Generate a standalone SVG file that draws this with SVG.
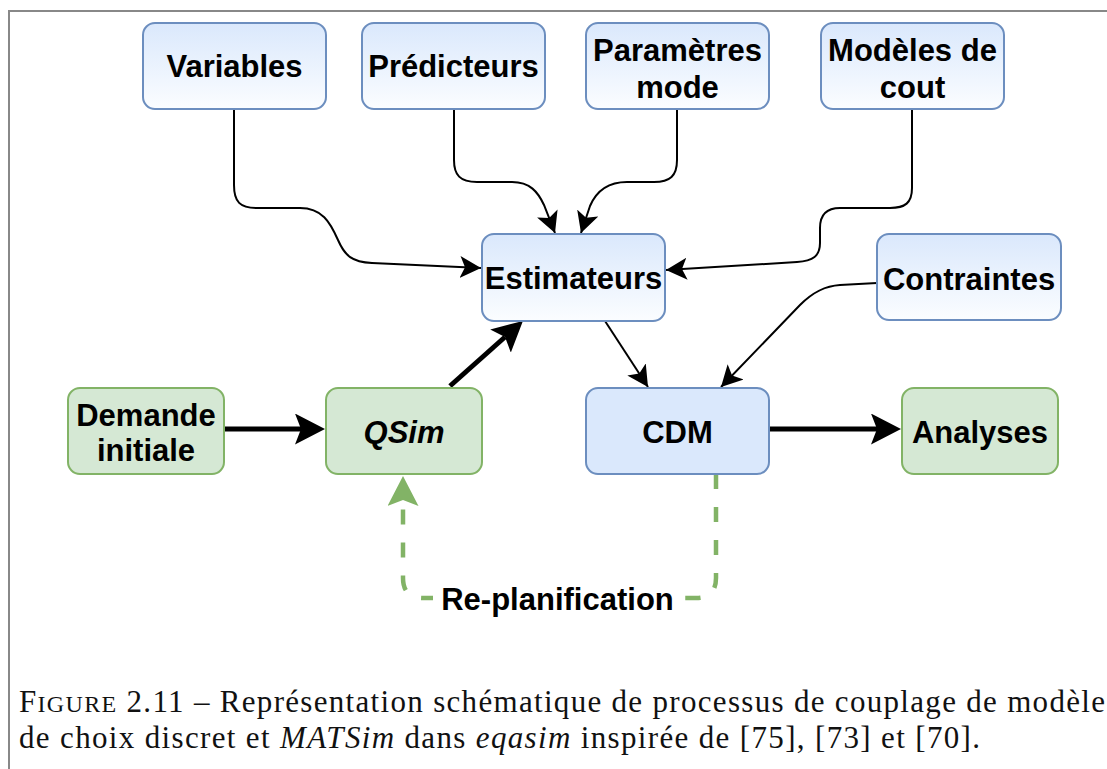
<svg xmlns="http://www.w3.org/2000/svg" width="1107" height="769" viewBox="0 0 1107 769">
<defs>
<linearGradient id="blueGrad" x1="0" y1="0" x2="0" y2="1">
<stop offset="0" stop-color="#dae8fc"/>
<stop offset="1" stop-color="#fbfdff"/>
</linearGradient>
<marker id="thin" markerUnits="userSpaceOnUse" markerWidth="22" markerHeight="22" refX="21" refY="11" orient="auto">
<path d="M21,11 L0,0 L5,11 L0,22 Z" fill="#000"/>
</marker>
<marker id="thick" markerUnits="userSpaceOnUse" markerWidth="31" markerHeight="31" refX="6" refY="15.5" orient="auto">
<path d="M30,15.5 L0,0 L6,15.5 L0,31 Z" fill="#000"/>
</marker>
<marker id="thickGreen" markerUnits="userSpaceOnUse" markerWidth="31" markerHeight="31" refX="6" refY="15.5" orient="auto">
<path d="M30,15.5 L0,0 L6,15.5 L0,31 Z" fill="#82b366"/>
</marker>
</defs>
<style>
.blue{fill:url(#blueGrad);stroke:#6c8ebf;stroke-width:2}
.blueSolid{fill:#dae8fc;stroke:#6c8ebf;stroke-width:2}
.green{fill:#d5e8d4;stroke:#82b366;stroke-width:2}
.lbl{font-family:"Liberation Sans",Arial,sans-serif;font-weight:bold;font-size:31px;fill:#000;text-anchor:middle}
.thin{fill:none;stroke:#000;stroke-width:2;marker-end:url(#thin)}
.thick{fill:none;stroke:#000;stroke-width:5;marker-end:url(#thick)}
.dash{fill:none;stroke:#82b366;stroke-width:4.5;stroke-dasharray:15 18;marker-end:url(#thickGreen)}
.cap{font-family:"Liberation Serif","Times New Roman",serif;font-size:31px;fill:#111}
</style>
<rect width="1107" height="769" fill="#fff"/>
<path d="M9,769 V11 H1107" fill="none" stroke="#888" stroke-width="2"/>

<g id="connectors">
<path class="thin" d="M234,109 V185 C234,202 240,208 257,208 H300 C322,208 330,222 338,240 C345,256 352,262 372,263 L481,268"/>
<path class="thin" d="M454,109 V160 C454,175 460,182 477,182 H512 C530,182 538,192 544,205 L555,233"/>
<path class="thin" d="M677,109 V160 C677,176 670,182 654,182 H627 C607,182 596,192 590,206 L581,233"/>
<path class="thin" d="M912,109 V188 C912,203 905,208 890,208 H840 C826,208 820,215 820,228 V243 C820,256 813,261 797,262 L666,270"/>
<path class="thin" d="M877,283 L840,285 C826,286 814,291 800,305 L721,387"/>
<path class="thin" d="M605,321 L648,387"/>
<path class="thick" d="M224,429 H301"/>
<path class="thick" d="M450,386 L505,337"/>
<path class="thick" d="M769,429 H877"/>
<path class="dash" d="M716,474 V578 Q716,598 696,598 H423 Q403,598 403,578 V500"/>
<rect x="433" y="583" width="250" height="34" fill="#fff"/>
<text class="lbl" x="557.5" y="610">Re-planification</text>
</g>

<g id="node-variables">
<rect class="blue" x="143" y="23" width="183" height="86" rx="12"/>
<text class="lbl" x="234.5" y="77">Variables</text>
</g>
<g id="node-predicteurs">
<rect class="blue" x="362" y="23" width="183" height="86" rx="12"/>
<text class="lbl" x="453.5" y="77">Prédicteurs</text>
</g>
<g id="node-parametres">
<rect class="blue" x="586" y="23" width="183" height="86" rx="12"/>
<text class="lbl" x="677.5" y="61">Paramètres</text>
<text class="lbl" x="677.5" y="98">mode</text>
</g>
<g id="node-modeles">
<rect class="blue" x="821" y="23" width="183" height="86" rx="12"/>
<text class="lbl" x="912.5" y="61">Modèles de</text>
<text class="lbl" x="912.5" y="98">cout</text>
</g>
<g id="node-estimateurs">
<rect class="blue" x="482" y="234" width="183" height="87" rx="12"/>
<text class="lbl" x="573.5" y="289">Estimateurs</text>
</g>
<g id="node-contraintes">
<rect class="blue" x="877" y="234" width="184" height="86" rx="12"/>
<text class="lbl" x="969" y="290">Contraintes</text>
</g>
<g id="node-demande">
<rect class="green" x="68" y="388" width="156" height="86" rx="12"/>
<text class="lbl" x="146" y="426">Demande</text>
<text class="lbl" x="146" y="461">initiale</text>
</g>
<g id="node-qsim">
<rect class="green" x="326" y="388" width="156" height="86" rx="12"/>
<text class="lbl" x="404" y="443" font-style="italic">QSim</text>
</g>
<g id="node-cdm">
<rect class="blueSolid" x="586" y="388" width="183" height="86" rx="12"/>
<text class="lbl" x="677.5" y="443">CDM</text>
</g>
<g id="node-analyses">
<rect class="green" x="902" y="388" width="156" height="86" rx="12"/>
<text class="lbl" x="980" y="443">Analyses</text>
</g>

<g id="caption">
<text class="cap" x="19" y="712" textLength="1086">F<tspan font-size="24">IGURE</tspan> 2.11 – Représentation schématique de processus de couplage de modèle</text>
<text class="cap" x="19" y="748" textLength="961">de choix discret et <tspan font-style="italic">MATSim</tspan> dans <tspan font-style="italic">eqasim</tspan> inspirée de [75], [73] et [70].</text>
</g>
</svg>
